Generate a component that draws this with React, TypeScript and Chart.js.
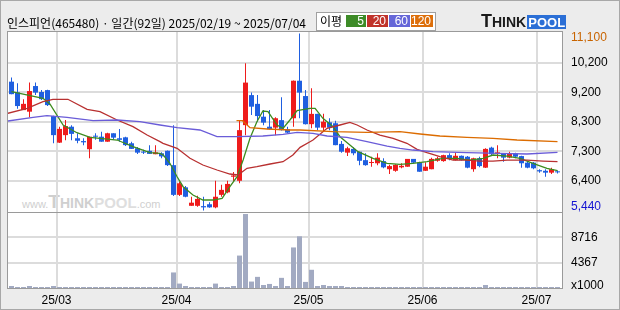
import React, { useEffect, useRef } from 'react';
import { Chart, registerables } from 'chart.js';

Chart.register(...registerables);

// ---------------- data ----------------
const opens = [9560, 9220, 8650, 8600, 9420, 9230, 9290, 8460, 7610, 7850, 8120, 7750, 7660, 7400, 7830, 7800, 7640, 7910, 7750, 7780, 7590, 7430, 7320, 7350, 7240, 7270, 7350, 6890, 5940, 6180, 5590, 5590, 5580, 5640, 5540, 5940, 6020, 6520, 6390, 8170, 9130, 8850, 8440, 8120, 8090, 8330, 8040, 8390, 9590, 9100, 8200, 8530, 8090, 8260, 8230, 7570, 7290, 7410, 7320, 7050, 6960, 6950, 7020, 6760, 6710, 6820, 6840, 7090, 6980, 6710, 6760, 7030, 7020, 7210, 7050, 7190, 7160, 6760, 7110, 6810, 7450, 7250, 7270, 7130, 7270, 7180, 6970, 6970, 6730, 6710, 6650, 6690];
const highs = [9690, 9510, 9000, 9530, 9530, 9290, 9300, 8470, 8120, 8330, 8170, 7910, 7750, 7800, 7910, 7960, 7930, 7910, 8050, 7800, 7640, 7470, 7380, 7530, 7530, 7300, 7360, 8170, 6360, 6220, 5880, 5910, 5880, 5700, 6390, 6260, 6390, 6670, 8310, 10150, 9210, 9130, 8650, 8650, 8420, 9060, 8120, 9600, 11100, 9290, 9350, 8530, 8530, 8390, 8310, 7660, 7480, 7460, 7320, 7270, 7160, 7270, 7110, 6900, 6920, 6950, 7090, 7090, 7000, 6980, 7130, 7160, 7220, 7270, 7290, 7200, 7180, 7130, 7160, 7430, 7480, 7530, 7280, 7320, 7290, 7190, 7000, 6990, 6760, 6760, 6810, 6720];
const lows = [9160, 8690, 8650, 8420, 9130, 8970, 8780, 7590, 7600, 7690, 7690, 7590, 7530, 7110, 7700, 7640, 7640, 7700, 7640, 7500, 7410, 7250, 7250, 7250, 7240, 7110, 6860, 5900, 5900, 5860, 5590, 5560, 5440, 5530, 5510, 5880, 5990, 6360, 6310, 7850, 8490, 8280, 8170, 8030, 7850, 8000, 7920, 8120, 8390, 8190, 8070, 8010, 7960, 8010, 7530, 7290, 7180, 7210, 6890, 6870, 6840, 6890, 6790, 6610, 6680, 6790, 6840, 6950, 6680, 6700, 6760, 7000, 7000, 7050, 7040, 7040, 6790, 6680, 6820, 6800, 7210, 7110, 7000, 7110, 7110, 6810, 6790, 6760, 6650, 6520, 6610, 6620];
const closes = [9160, 8780, 8850, 9260, 9210, 9000, 8810, 7850, 8050, 8140, 7890, 7670, 7620, 7800, 7800, 7640, 7910, 7770, 7700, 7530, 7410, 7290, 7290, 7250, 7300, 7170, 6890, 5940, 6310, 5880, 5690, 5810, 5540, 5540, 5880, 6100, 6290, 6560, 8010, 9530, 8760, 8460, 8250, 8040, 8390, 8010, 7930, 9590, 9210, 8200, 8530, 8090, 8280, 8090, 7530, 7320, 7430, 7270, 7030, 6890, 6980, 7130, 6820, 6860, 6900, 6870, 7090, 6970, 6680, 6840, 7090, 7110, 7210, 7110, 7190, 7050, 6810, 7110, 6860, 7410, 7240, 7300, 7130, 7270, 7160, 6950, 6810, 6790, 6690, 6650, 6760, 6660];
const volumes = [350, 175, 175, 350, 175, 175, 175, 350, 175, 175, 175, 175, 175, 175, 175, 175, 175, 175, 175, 175, 175, 175, 175, 175, 175, 175, 175, 2680, 760, 350, 175, 175, 175, 175, 760, 175, 175, 350, 5590, 12750, 1110, 1920, 520, 700, 350, 1750, 350, 6990, 8910, 1050, 3140, 350, 520, 350, 350, 350, 175, 175, 175, 175, 175, 175, 175, 175, 175, 175, 175, 175, 175, 175, 175, 175, 175, 175, 175, 175, 175, 175, 175, 520, 175, 175, 175, 175, 175, 175, 175, 175, 175, 175, 175, 175];

// moving averages (day position, value)
const ma5Days = [0, 5.25, 6.4, 8.6, 10.9, 13.1, 17.6, 20.25, 21.9, 23.1, 24.75, 25.3, 26.4, 27.6, 28.6, 30.25, 31.9, 33.6, 35.1, 36.4, 37.6, 38.6, 39.75, 40.9, 41.9, 42.75, 44.25, 45.25, 46.4, 47.6, 49.75, 50.6, 51.9, 53.6, 54.75, 56.4, 57.75, 60.25, 62.6, 64.75, 66.9, 69.25, 71.9, 74.25, 76.4, 78.6, 80.25, 82.6, 84.75, 86.9, 89.25, 91];
const ma5Values = [9240, 9028, 8845, 8174, 7928, 7780, 7694, 7480, 7374, 7288, 7269, 7214, 6949, 6520, 6201, 5935, 5775, 5775, 5830, 6201, 6520, 7054, 7748, 8280, 8622, 8600, 8174, 8068, 8334, 8632, 8708, 8708, 8388, 8120, 7800, 7534, 7320, 7109, 6949, 6917, 6949, 7000, 7109, 7109, 7054, 7109, 7214, 7182, 7109, 6949, 6789, 6712];
const ma20Days = [-0.6, 2.6, 5.25, 6.9, 9.4, 12.6, 14.75, 17.6, 20.25, 22.6, 24.75, 25.25, 27.6, 29.75, 31.9, 34.25, 36.4, 37.75, 39.25, 40.9, 43.1, 45.25, 46.9, 48.1, 49.75, 50.25, 52.6, 54.75, 56.4, 57.6, 59.25, 61.4, 63.6, 65.9, 67.6, 69.25, 71.4, 73.6, 75.9, 78.1, 80.25, 82.6, 85.9, 88.6, 91];
const ma20Values = [8548, 8708, 8919, 8996, 8996, 8676, 8600, 8334, 8120, 7854, 7640, 7589, 7429, 7109, 6895, 6735, 6607, 6575, 6789, 6840, 6927, 7000, 7214, 7460, 7640, 7694, 8068, 8174, 8260, 8174, 8014, 7854, 7748, 7589, 7397, 7288, 7160, 7054, 7054, 7022, 7022, 7054, 7054, 7022, 7000];
const ma60Days = [-0.6, 3.6, 5.9, 9.25, 13.6, 17.6, 21.4, 24.75, 27.6, 31.4, 34.25, 37.6, 41.9, 45.25, 47.6, 50.25, 52.6, 55.9, 59.25, 62.6, 64.75, 66.9, 70.25, 75.9, 81.4, 85.9, 91];
const ma60Values = [8302, 8420, 8471, 8420, 8311, 8334, 8280, 8174, 8088, 8014, 7800, 7800, 7822, 7876, 7940, 7908, 7822, 7780, 7640, 7502, 7429, 7374, 7320, 7288, 7269, 7246, 7300];
const ma120Days = [37.5, 38.5, 39.75, 42.6, 46.4, 48.1, 53.6, 59.25, 64.75, 68.1, 71.4, 75.9, 80.25, 84.25, 91];
const ma120Values = [8311, 8311, 8088, 8046, 8014, 8014, 7960, 7940, 7960, 7886, 7822, 7780, 7748, 7694, 7640];

const monthStartDays = [8, 28, 50, 69, 88];
const monthLabels = ['25/03', '25/04', '25/05', '25/06', '25/07'];

const priceHigh = 11100;
const priceLow = 5440;
const priceHighLabel = '11,100';
const priceLowLabel = '5,440';
const priceGridLabels = ['6,400', '7,300', '8,300', '9,200', '10,200'];

const volumeTickValues = [4367, 8716];
const volumeTickLabels = ['4367', '8716'];
const volumeUnitLabel = 'x1000';
const volumeAxisMax = 13100;

const titleText = '인스피언(465480) · 일간(92일) 2025/02/19 ~ 2025/07/04';
const legendTitle = '이평';
const maPeriods = ['5', '20', '60', '120'];

// ---------------- styles ----------------
const UP = '#ee1c1c';
const DOWN = '#1f5fe0';
const VOL = '#a2aac2';
const GRID = '#dcdcdc';
const MA_COLORS = ['#3c8c1e', '#b83030', '#6a5cd8', '#dc6c00'];
const LEGEND_COLORS = ['#3d8b27', '#c0332b', '#6667d8', '#dd6f0b'];
const AXIS_FONT = '12px "Liberation Sans", Arial, sans-serif';

const PLOT_LEFT = 8;
const PLOT_RIGHT = 562;
const CANVAS_W = 620;
const RIGHT_AXIS_W = CANVAS_W - PLOT_RIGHT;
const SLOT = 6;
const FIRST_CENTER = 11.5;
const X_MIN = (PLOT_LEFT - FIRST_CENTER) / SLOT;
const X_MAX = (PLOT_RIGHT - FIRST_CENTER) / SLOT;

const PRICE_TOP = 32;
const PRICE_BOTTOM = 212;
const PRICE_INSET = 1.5; // px between extreme price and panel edge

function makeLabelPlugin(items: { value: number; text: string; color: string }[], padTop: number, padBottom: number) {
  return {
    id: 'rightLabels',
    afterDraw(chart: any) {
      const { ctx, chartArea, scales } = chart;
      const ys = scales.y;
      ctx.save();
      ctx.font = AXIS_FONT;
      ctx.textBaseline = 'middle';
      ctx.textAlign = 'left';
      for (const it of items) {
        let py = ys.getPixelForValue(it.value);
        py = Math.min(Math.max(py, chartArea.top + padTop), chartArea.bottom - padBottom);
        ctx.fillStyle = it.color;
        ctx.fillText(it.text, chartArea.right + 9, py);
      }
      ctx.restore();
    },
  };
}

function xAxis(showLabels: boolean) {
  return {
    type: 'linear',
    min: X_MIN,
    max: X_MAX,
    offset: false,
    grid: { color: GRID, lineWidth: 2, drawTicks: false, offset: false },
    border: { display: false },
    ticks: {
      display: showLabels,
      autoSkip: false,
      maxRotation: 0,
      padding: 5,
      color: '#000',
      font: { family: '"Liberation Sans", Arial, sans-serif', size: 12 },
      callback: (_v: any, index: number) => monthLabels[index],
    },
    afterBuildTicks: (s: any) => {
      s.ticks = monthStartDays.map((d) => ({ value: d - 0.5 }));
    },
    afterFit: (s: any) => {
      s.height = showLabels ? 22 : 0;
    },
  };
}

export default function App() {
  const priceRef = useRef<HTMLCanvasElement>(null);
  const volRef = useRef<HTMLCanvasElement>(null);

  useEffect(() => {
    document.body.style.margin = '0';
    const days = opens.map((_, i) => i);
    const colors = days.map((i) => (closes[i] >= opens[i] ? UP : DOWN));

    const pxRange = PRICE_BOTTOM - PRICE_TOP;
    const wonRange = ((priceHigh - priceLow) * pxRange) / (pxRange - 2 * PRICE_INSET);
    const pad = (wonRange - (priceHigh - priceLow)) / 2;
    const gridStep = (priceHigh - priceLow) / (priceGridLabels.length + 1);
    const gridValues = priceGridLabels.map((_, k) => priceLow + gridStep * (k + 1));

    const priceItems = [
      { value: priceHigh, text: priceHighLabel, color: '#c86400' },
      ...gridValues.map((v, k) => ({ value: v, text: priceGridLabels[k], color: '#000' })).reverse(),
      { value: priceLow, text: priceLowLabel, color: '#1414d2' },
    ];

    const line = (ds: number[], vs: number[], color: string) => ({
      type: 'line' as const,
      data: ds.map((d, k) => ({ x: d, y: vs[k] })),
      borderColor: color,
      borderWidth: 1.3,
      pointRadius: 0,
      tension: 0,
      order: 0,
    });

    const priceChart = new Chart(priceRef.current as HTMLCanvasElement, {
      type: 'bar',
      data: {
        datasets: [
          line(ma120Days, ma120Values, MA_COLORS[3]),
          line(ma60Days, ma60Values, MA_COLORS[2]),
          line(ma20Days, ma20Values, MA_COLORS[1]),
          line(ma5Days, ma5Values, MA_COLORS[0]),
          {
            type: 'bar',
            data: days.map((i) => ({ x: i, y: [opens[i], closes[i]] })),
            backgroundColor: colors,
            barThickness: 5,
            minBarLength: 1,
            grouped: false,
            inflateAmount: 0,
            order: 2,
          } as any,
          {
            type: 'bar',
            data: days.map((i) => ({ x: i, y: [lows[i], highs[i]] })),
            backgroundColor: colors,
            barThickness: 1,
            grouped: false,
            inflateAmount: 0,
            order: 3,
          } as any,
        ],
      },
      options: {
        responsive: false,
        maintainAspectRatio: false,
        animation: false,
        events: [],
        layout: { padding: { left: PLOT_LEFT, top: PRICE_TOP, right: 0, bottom: 1 } },
        plugins: { legend: { display: false }, tooltip: { enabled: false } },
        scales: {
          x: xAxis(false) as any,
          y: {
            position: 'right',
            min: priceLow - pad,
            max: priceHigh + pad,
            grid: { color: GRID, lineWidth: 2, drawTicks: false },
            border: { display: false },
            ticks: { display: false },
            afterBuildTicks: (s: any) => {
              s.ticks = gridValues.map((v) => ({ value: v }));
            },
            afterFit: (s: any) => {
              s.width = RIGHT_AXIS_W;
            },
          } as any,
        },
      },
      plugins: [makeLabelPlugin(priceItems, 5.3, 5.3)],
    });

    const volItems = [
      ...volumeTickValues.map((v, k) => ({ value: v, text: volumeTickLabels[k], color: '#000' })),
      { value: 0, text: volumeUnitLabel, color: '#000' },
    ];

    const volChart = new Chart(volRef.current as HTMLCanvasElement, {
      type: 'bar',
      data: {
        datasets: [
          {
            data: days.map((i) => ({ x: i, y: volumes[i] })),
            backgroundColor: VOL,
            barThickness: 5,
            grouped: false,
            inflateAmount: 0,
          } as any,
        ],
      },
      options: {
        responsive: false,
        maintainAspectRatio: false,
        animation: false,
        events: [],
        layout: { padding: { left: PLOT_LEFT, top: 0, right: 0, bottom: 0 } },
        plugins: { legend: { display: false }, tooltip: { enabled: false } },
        scales: {
          x: xAxis(true) as any,
          y: {
            position: 'right',
            min: 0,
            max: volumeAxisMax,
            grid: { color: GRID, lineWidth: 2, drawTicks: false },
            border: { display: false },
            ticks: { display: false },
            afterBuildTicks: (s: any) => {
              s.ticks = volumeTickValues.map((v) => ({ value: v }));
            },
            afterFit: (s: any) => {
              s.width = RIGHT_AXIS_W;
            },
          } as any,
        },
      },
      plugins: [makeLabelPlugin(volItems, 5, 2)],
    });

    return () => {
      priceChart.destroy();
      volChart.destroy();
    };
  }, []);

  const abs = (s: React.CSSProperties): React.CSSProperties => ({ position: 'absolute', ...s });

  return (
    <div style={{ position: 'relative', width: 620, height: 310, background: '#ececec', overflow: 'hidden' }}>
      <div style={abs({ left: 7, top: 31, width: 556, height: 258, background: '#fff' })} />
      <div
        style={abs({
          left: 22,
          top: 193,
          color: '#cfcfcf',
          fontFamily: '"Liberation Sans", Arial, sans-serif',
          whiteSpace: 'nowrap',
          display: 'flex',
          alignItems: 'baseline',
          lineHeight: '18px',
        })}
      >
        <span style={{ fontSize: 11 }}>www.</span>
        <span style={{ fontSize: 19, fontWeight: 700 }}>T</span>
        <span style={{ fontSize: 14, fontWeight: 700 }}>HINK</span>
        <span style={{ fontSize: 15, fontWeight: 700, color: '#dedede' }}>POOL</span>
        <span style={{ fontSize: 11 }}>.com</span>
      </div>
      <canvas ref={priceRef} width={620} height={213} style={abs({ left: 0, top: 0, width: 620, height: 213 })} />
      <canvas ref={volRef} width={620} height={98} style={abs({ left: 0, top: 212, width: 620, height: 98 })} />
      <div style={abs({ left: 7, top: 31, width: 556, height: 258, border: '1px solid #9a9a9a', boxSizing: 'border-box' })} />
      <div style={abs({ left: 7, top: 212, width: 556, height: 1, background: '#9a9a9a' })} />
      <div
        style={abs({
          left: 7,
          top: 15,
          fontSize: 12,
          lineHeight: '16px',
          fontFamily: '"Noto Sans CJK KR", sans-serif',
          color: '#000',
          whiteSpace: 'nowrap',
        })}
      >
        {titleText}
      </div>
      <div style={abs({ left: 316, top: 12, width: 120, height: 19, border: '1px solid #a0a0a0', boxSizing: 'border-box', background: '#fff' })} />
      <div
        style={abs({
          left: 320,
          top: 13,
          fontSize: 12,
          lineHeight: '16px',
          fontFamily: '"Noto Sans CJK KR", sans-serif',
          color: '#000',
        })}
      >
        {legendTitle}
      </div>
      {maPeriods.map((p, k) => {
        const lefts = [346, 367, 389, 411];
        const widths = [20, 21, 21, 22];
        return (
          <div
            key={p}
            style={abs({
              left: lefts[k],
              top: 15,
              width: widths[k],
              height: 12,
              background: LEGEND_COLORS[k],
              color: '#fff',
              fontSize: 12,
              lineHeight: '13px',
              fontFamily: '"Liberation Sans", Arial, sans-serif',
              textAlign: 'right',
              paddingRight: 2,
              boxSizing: 'border-box',
            })}
          >
            {p}
          </div>
        );
      })}
      <div
        style={abs({
          left: 481,
          top: 13,
          display: 'flex',
          alignItems: 'flex-end',
          fontFamily: '"Liberation Sans", Arial, sans-serif',
          fontWeight: 700,
          whiteSpace: 'nowrap',
          height: 16,
        })}
      >
        <span style={{ fontSize: 18, color: '#1a1a1a', lineHeight: '16px' }}>T</span>
        <span style={{ fontSize: 14, color: '#1a1a1a', lineHeight: '14px' }}>HINK</span>
        <span
          style={{
            fontSize: 13,
            color: '#fff',
            background: '#2b6fd6',
            display: 'inline-block',
            height: 14,
            lineHeight: '15px',
            padding: '0 1px',
            marginLeft: 1,
          }}
        >
          POOL
        </span>
      </div>
      <div style={abs({ left: 0, top: 0, width: 620, height: 310, border: '1px solid #a8a8a8', boxSizing: 'border-box', pointerEvents: 'none' })} />
    </div>
  );
}
